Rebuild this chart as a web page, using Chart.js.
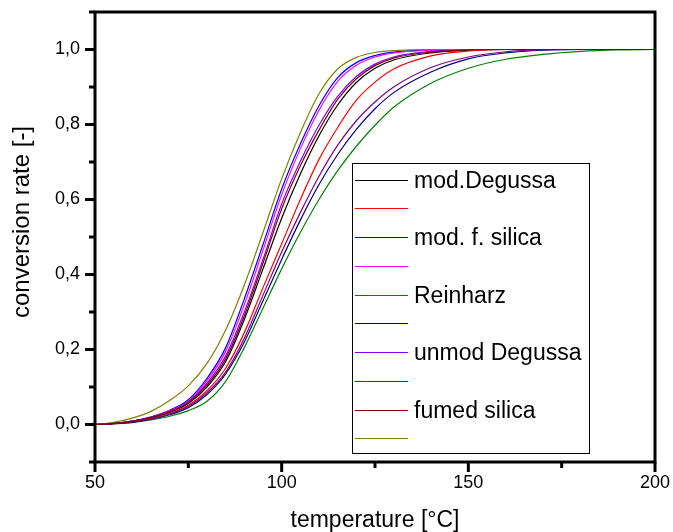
<!DOCTYPE html>
<html>
<head>
<meta charset="utf-8">
<script src="https://cdn.jsdelivr.net/npm/chart.js@4/dist/chart.umd.min.js"></script>
<style>
    html, body { margin: 0; padding: 0; background: #fff; }
    #wrap { width: 673px; height: 532px; }
</style>
</head>
<body>
<div id="wrap"><canvas id="chart"></canvas></div>
<script>
// temperature grid [°C]
const temps = [50, 55, 60, 65, 70, 75, 80, 85, 90, 95, 100, 105, 110, 115, 120, 125, 130, 140, 150, 160, 170, 180, 190, 200];

// conversion rate per sample (two runs each)
const modDegussaA   = [0, .003, .008, .018, .032, .056, .100, .168, .280, .415, .550, .668, .770, .852, .912, .950, .972, .991, .998, 1, 1, 1, 1, 1];
const modDegussaB   = [0, .002, .007, .016, .030, .051, .090, .150, .245, .365, .482, .600, .707, .792, .865, .913, .948, .983, .996, 1, 1, 1, 1, 1];
const modSilicaA    = [0, .003, .009, .020, .038, .066, .123, .205, .335, .480, .628, .748, .850, .925, .965, .984, .993, .999, 1, 1, 1, 1, 1, 1];
const modSilicaB    = [0, .003, .009, .020, .037, .063, .117, .195, .320, .465, .613, .735, .838, .915, .958, .980, .991, .998, 1, 1, 1, 1, 1, 1];
const reinharzA     = [0, .002, .005, .012, .022, .037, .062, .115, .205, .310, .415, .512, .600, .677, .742, .798, .846, .910, .950, .974, .987, .995, .999, 1];
const reinharzB     = [0, .002, .006, .014, .026, .045, .080, .135, .220, .330, .440, .545, .640, .720, .787, .842, .885, .940, .975, .991, .998, 1, 1, 1];
const unmodDegussaA = [0, .003, .009, .020, .036, .061, .110, .183, .300, .440, .588, .702, .798, .875, .928, .961, .980, .995, 1, 1, 1, 1, 1, 1];
const unmodDegussaB = [0, .002, .007, .015, .028, .048, .085, .140, .230, .345, .460, .565, .662, .745, .810, .860, .900, .952, .980, .994, .999, 1, 1, 1];
const fumedSilicaA  = [0, .003, .009, .019, .034, .059, .105, .175, .290, .430, .575, .690, .785, .867, .922, .957, .977, .993, .999, 1, 1, 1, 1, 1];
const fumedSilicaB  = [0, .006, .017, .035, .064, .103, .163, .252, .372, .512, .655, .778, .882, .948, .979, .992, .997, 1, 1, 1, 1, 1, 1, 1];

const seriesLabels = ['mod.Degussa', '', 'mod. f. silica', '', 'Reinharz', '', 'unmod Degussa', '', 'fumed silica', ''];
const seriesValues = [modDegussaA, modDegussaB, modSilicaA, modSilicaB, reinharzA, reinharzB,
                      unmodDegussaA, unmodDegussaB, fumedSilicaA, fumedSilicaB];
const seriesColors = ['#000000', '#ff0000', '#0000ff', '#ff00ff', '#008000',
                      '#000080', '#8000ff', '#800080', '#800000', '#808000'];
// stacking of the curves, higher number is drawn first
const drawOrder = [10, 9, 8, 7, 6, 5, 4, 2, 1, 3];

const FONT = 'Arial, "Liberation Sans", sans-serif';

const datasets = seriesValues.map((vals, i) => ({
    label: seriesLabels[i],
    data: vals.map((v, j) => ({ x: temps[j], y: v })),
    borderColor: seriesColors[i],
    borderWidth: 1.2,
    pointRadius: 0,
    fill: false,
    cubicInterpolationMode: 'monotone',
    order: drawOrder[i]
}));

// thick frame + outward tick marks, major ones longer
const frameAndTicks = {
    id: 'frameAndTicks',
    afterDatasetsDraw(chart) {
        const { ctx, chartArea: a, scales } = chart;
        ctx.save();
        ctx.strokeStyle = '#000';
        ctx.lineWidth = 3;
        ctx.lineCap = 'butt';
        ctx.strokeRect(a.left, a.top, a.right - a.left, a.bottom - a.top);

        scales.x.ticks.forEach(t => {
            const px = scales.x.getPixelForValue(t.value);
            const len = t.label !== '' ? 10 : 6;
            ctx.beginPath();
            ctx.moveTo(px, a.bottom);
            ctx.lineTo(px, a.bottom + len);
            ctx.stroke();
        });
        scales.y.ticks.forEach(t => {
            const py = scales.y.getPixelForValue(t.value);
            const len = t.label !== '' ? 10 : 6;
            ctx.beginPath();
            ctx.moveTo(a.left, py);
            ctx.lineTo(a.left - len, py);
            ctx.stroke();
        });

        // y axis title, sits a little above the axis centre
        ctx.fillStyle = '#000';
        ctx.font = '24px ' + FONT;
        ctx.textAlign = 'center';
        ctx.textBaseline = 'middle';
        ctx.translate(22, 222);
        ctx.rotate(-Math.PI / 2);
        ctx.fillText('conversion rate [-]', 0, 0);
        ctx.restore();
    }
};

// boxed legend inside the plot
const boxLegend = {
    id: 'boxLegend',
    afterDraw(chart) {
        const { ctx } = chart;
        const box = { left: 352.5, top: 163.5, right: 589.5, bottom: 453.5 };
        const rowTop = 179.5, rowStep = 28.75;
        ctx.save();
        ctx.fillStyle = '#fff';
        ctx.fillRect(box.left, box.top, box.right - box.left, box.bottom - box.top);
        ctx.strokeStyle = '#000';
        ctx.lineWidth = 1;
        ctx.strokeRect(box.left, box.top, box.right - box.left, box.bottom - box.top);

        ctx.font = '23px ' + FONT;
        ctx.textBaseline = 'middle';
        ctx.fillStyle = '#000';
        chart.data.datasets.forEach((ds, i) => {
            const y = Math.round(rowTop + rowStep * i) + 0.5;
            ctx.strokeStyle = ds.borderColor;
            ctx.lineWidth = 1.2;
            ctx.beginPath();
            ctx.moveTo(355, y);
            ctx.lineTo(408, y);
            ctx.stroke();
            if (ds.label) ctx.fillText(ds.label, 414, y + 1);
        });
        ctx.restore();
    }
};

new Chart(document.getElementById('chart'), {
    type: 'line',
    data: { datasets },
    options: {
        responsive: true,
        maintainAspectRatio: false,
        animation: false,
        layout: { padding: { left: 0, right: 18, top: 12, bottom: 0 } },
        plugins: {
            legend: { display: false },
            tooltip: { enabled: false }
        },
        scales: {
            x: {
                type: 'linear',
                min: 50,
                max: 200,
                afterFit: s => {
                    s.height = 70;
                    s.paddingLeft = 0;
                    s.paddingRight = 0;
                },
                border: { display: false },
                grid: { display: false, drawTicks: false },
                ticks: {
                    stepSize: 25,
                    autoSkip: false,
                    maxRotation: 0,
                    padding: 10,
                    color: '#000',
                    font: { family: FONT, size: 18 },
                    callback: v => (v % 50 === 0 ? String(v) : '')
                },
                title: {
                    display: true,
                    text: 'temperature [°C]',
                    color: '#000',
                    font: { family: FONT, size: 23 },
                    padding: { top: 0, bottom: -2 }
                }
            },
            y: {
                min: -0.1,
                max: 1.1,
                afterFit: s => {
                    s.width = 95;
                    s.paddingTop = 0;
                    s.paddingBottom = 0;
                },
                border: { display: false },
                grid: { display: false, drawTicks: false },
                ticks: {
                    stepSize: 0.1,
                    autoSkip: false,
                    padding: 15,
                    color: '#000',
                    font: { family: FONT, size: 18 },
                    callback: v => {
                        const k = Math.round(v * 10);
                        return (k >= 0 && k <= 10 && k % 2 === 0) ? (k / 10).toFixed(1).replace('.', ',') : '';
                    }
                }
            }
        }
    },
    plugins: [frameAndTicks, boxLegend]
});
</script>
</body>
</html>
